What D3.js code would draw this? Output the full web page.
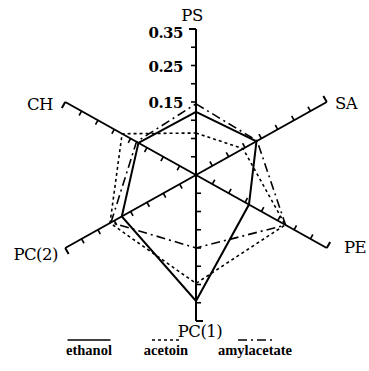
<!DOCTYPE html>
<html>
<head>
<meta charset="utf-8">
<script src="https://cdn.jsdelivr.net/npm/d3@7/dist/d3.min.js"></script>
<style>
  html, body { margin: 0; padding: 0; background: #fff; }
  svg { display: block; }
  text { font-family: "DejaVu Serif", "Liberation Serif", serif; fill: #000; }
</style>
</head>
<body>
<svg id="chart" width="369" height="371"></svg>
<script>
// Radar axes, clockwise from the top
const axes = ["PS", "SA", "PE", "PC(1)", "PC(2)", "CH"];

// Scale: every axis runs from the centre out to 0.35, one tick each 0.05
const tickValues = [0.00, 0.05, 0.10, 0.15, 0.20, 0.25, 0.30];
const tickLabels = ["0.15", "0.25", "0.35"];

// Series values, in axis order
const seriesNames = ["ethanol", "acetoin", "amylacetate"];
const ethanol     = [0.123, 0.135, 0.112, 0.295, 0.177, 0.126];
const acetoin     = [0.065, 0.094, 0.223, 0.247, 0.213, 0.176];
const amylacetate = [0.145, 0.137, 0.224, 0.150, 0.210, 0.132];

const svg = d3.select("#chart");
const cx = 196, cy = 175;
const rx = 151, ry = 146;

const r = d3.scaleLinear().domain([-0.05, 0.35]).range([0, 1]);
const angle = d3.scaleLinear().domain([0, axes.length]).range([0, 2 * Math.PI]);

function pt(i, v) {
  const a = angle(i), f = r(v);
  return [cx + Math.sin(a) * rx * f, cy - Math.cos(a) * ry * f];
}
function unit(i) {
  const a = angle(i);
  const dx = Math.sin(a) * rx, dy = -Math.cos(a) * ry;
  const L = Math.hypot(dx, dy);
  return [dx / L, dy / L];
}

const gAxes = svg.append("g");
axes.forEach((name, i) => {
  const end = pt(i, 0.35);
  gAxes.append("line")
    .attr("x1", cx).attr("y1", cy).attr("x2", end[0]).attr("y2", end[1])
    .attr("stroke", "#000").attr("stroke-width", 2);
  const u = unit(i);
  const n = [u[1], -u[0]];
  tickValues.forEach(v => {
    const p = pt(i, v);
    gAxes.append("line")
      .attr("x1", p[0]).attr("y1", p[1])
      .attr("x2", p[0] + n[0] * 5).attr("y2", p[1] + n[1] * 5)
      .attr("stroke", "#000").attr("stroke-width", 1.6);
  });
  gAxes.append("line")
    .attr("x1", end[0]).attr("y1", end[1])
    .attr("x2", end[0] + n[0] * 7).attr("y2", end[1] + n[1] * 7)
    .attr("stroke", "#000").attr("stroke-width", 2);
});

// Value labels along the PS axis
[0.15, 0.25, 0.35].forEach((v, k) => {
  const p = pt(0, v);
  svg.append("text")
    .attr("x", cx - 13).attr("y", p[1] + (k === 2 ? 4 : 1))
    .attr("dy", "0.35em")
    .attr("text-anchor", "end")
    .attr("font-size", 15).attr("font-weight", "bold")
    .attr("letter-spacing", -0.5)
    .text(tickLabels[k]);
});

// Axis names
const namePos = [
  { x: 192, y: 15, anchor: "middle" },
  { x: 335, y: 103, anchor: "start" },
  { x: 344, y: 247, anchor: "start" },
  { x: 200, y: 331, anchor: "middle" },
  { x: 58,  y: 254, anchor: "end" },
  { x: 53,  y: 104, anchor: "end" }
];
axes.forEach((name, i) => {
  svg.append("text")
    .attr("x", namePos[i].x).attr("y", namePos[i].y)
    .attr("dy", "0.35em")
    .attr("text-anchor", namePos[i].anchor)
    .attr("font-size", 16.5)
    .attr("letter-spacing", -0.5)
    .text(name);
});

// Series polygons
const styles = [
  { dash: null,       width: 2.0 },
  { dash: "3,3",      width: 1.6 },
  { dash: "9,4,2,4",  width: 1.6 }
];
const line = d3.line().curve(d3.curveLinearClosed);
[ethanol, acetoin, amylacetate].forEach((vals, s) => {
  svg.append("path")
    .attr("d", line(vals.map((v, i) => pt(i, v))))
    .attr("fill", "none")
    .attr("stroke", "#000")
    .attr("stroke-width", styles[s].width)
    .attr("stroke-dasharray", styles[s].dash);
});

// Legend
const legendX = [89, 166, 255];
const legendLen = [43, 28, 34];
seriesNames.forEach((name, s) => {
  svg.append("line")
    .attr("x1", legendX[s] - legendLen[s] / 2).attr("x2", legendX[s] + legendLen[s] / 2)
    .attr("y1", 340).attr("y2", 340)
    .attr("stroke", "#000").attr("stroke-width", 1.4)
    .attr("stroke-dasharray", styles[s].dash);
  svg.append("text")
    .attr("x", legendX[s]).attr("y", 355)
    .attr("text-anchor", "middle")
    .style("font-family", "'Liberation Serif', serif")
    .style("font-size", "14.5px").style("font-weight", "bold")
    .text(name);
});
</script>
</body>
</html>
